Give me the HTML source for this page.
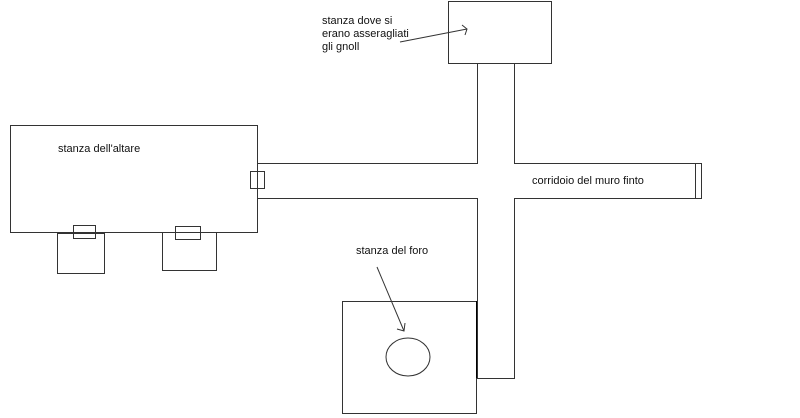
<!DOCTYPE html>
<html><head><style>body{margin:0;background:#fff}svg{display:block}text{font-family:"Liberation Sans",sans-serif;font-size:11px;fill:#111}</style></head><body>
<svg width="800" height="418" viewBox="0 0 800 418" stroke="#333" stroke-width="1" fill="none" shape-rendering="crispEdges">
<rect x="448.5" y="1.5" width="103" height="62"/>
<rect x="10.5" y="125.5" width="247" height="107"/>
<rect x="250.5" y="171.5" width="14" height="17"/>
<rect x="57.5" y="233.5" width="47" height="40"/>
<rect x="73.5" y="225.5" width="22" height="13"/>
<rect x="162.5" y="232.5" width="54" height="38"/>
<rect x="175.5" y="226.5" width="25" height="13"/>
<rect x="342.5" y="301.5" width="134" height="112"/>
<polyline points="477.5,63 477.5,163.5 257.5,163.5"/>
<polyline points="514.5,63 514.5,163.5 696,163.5"/>
<polyline points="257.5,198.5 477.5,198.5 477.5,378.5 514.5,378.5 514.5,198.5 696,198.5"/>
<rect x="695.5" y="163.5" width="6" height="35"/>
<line x1="476.5" y1="301" x2="476.5" y2="378" stroke="#000"/>
<g shape-rendering="auto">
<ellipse cx="408" cy="357" rx="22" ry="19"/>
<line x1="377" y1="267" x2="404" y2="331"/>
<polyline points="397,329 404,331 405,323"/>
<line x1="400" y1="42" x2="467" y2="29"/>
<polyline points="462,25 467,29 465,35"/>
</g>
<g stroke="none">
<text x="322" y="24">stanza dove si</text>
<text x="322" y="37">erano asseragliati</text>
<text x="322" y="50">gli gnoll</text>
<text x="58" y="152">stanza dell'altare</text>
<text x="356" y="254">stanza del foro</text>
<text x="532" y="184">corridoio del muro finto</text>
</g>
</svg>
</body></html>
